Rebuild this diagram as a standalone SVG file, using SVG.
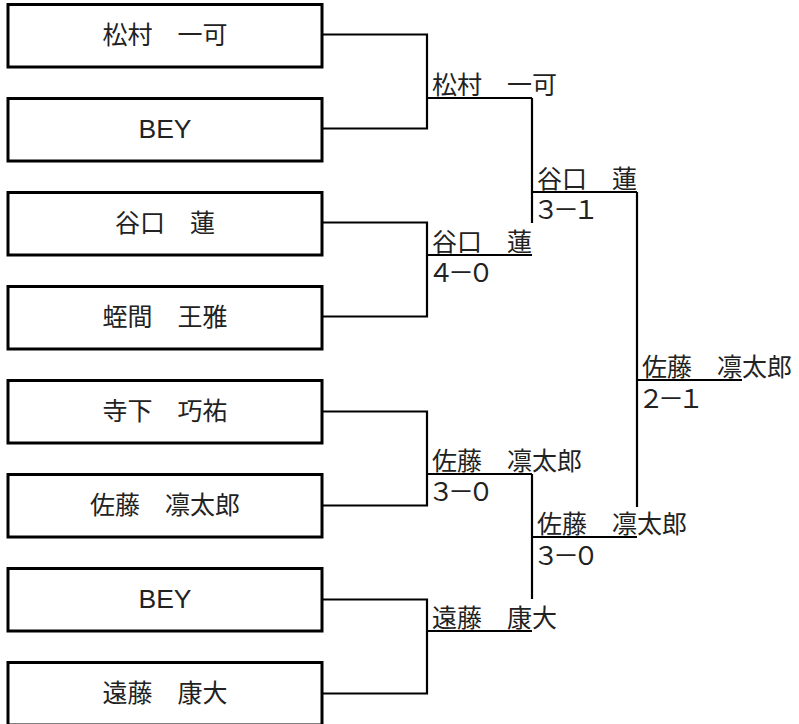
<svg xmlns="http://www.w3.org/2000/svg" width="799" height="724" viewBox="0 0 799 724">
<style>
.box{fill:#fff;stroke:#000;stroke-width:3}
.ln{fill:none;stroke:#000;stroke-width:2.2}
.nm{font-family:"Noto Sans CJK JP","Noto Sans CJK SC",sans-serif;font-size:25px;fill:#222}
.sc{font-family:"Noto Sans CJK JP","Noto Sans CJK SC",sans-serif;font-size:26px;fill:#222;letter-spacing:-6px}
.bn{font-family:"Noto Sans CJK JP","Noto Sans CJK SC",sans-serif;font-size:25px;fill:#222;text-anchor:middle}
.lat{font-family:"Liberation Sans",Arial,sans-serif;font-size:26.5px;fill:#222;text-anchor:middle}
</style>
<rect width="799" height="724" fill="#fff"/>
<g id="connectors">
<path class="ln" d="M322,34.5 H427 V128.5 H322"/>
<path class="ln" d="M427,98 H532"/>
<path class="ln" d="M322,222.5 H427 V316.5 H322"/>
<path class="ln" d="M427,255 H532"/>
<path class="ln" d="M322,411.5 H427 V505.5 H322"/>
<path class="ln" d="M427,474 H532"/>
<path class="ln" d="M322,599.5 H427 V693.5 H322"/>
<path class="ln" d="M427,631 H532"/>
<path class="ln" d="M532,98 V223"/>
<path class="ln" d="M532,192 H637"/>
<path class="ln" d="M532,474 V599"/>
<path class="ln" d="M532,537 H637"/>
<path class="ln" d="M637,192 V507"/>
<path class="ln" d="M637,380 H742"/>
</g>
<g id="p1"><rect class="box" x="8" y="4.5" width="314" height="62.5"/><text class="bn" x="165" y="43.5">松村　一可</text></g>
<g id="p2"><rect class="box" x="8" y="98.5" width="314" height="62.5"/><text class="lat" x="165" y="138">BEY</text></g>
<g id="p3"><rect class="box" x="8" y="192.5" width="314" height="62.5"/><text class="bn" x="165" y="231.5">谷口　蓮</text></g>
<g id="p4"><rect class="box" x="8" y="286.5" width="314" height="62.5"/><text class="bn" x="165" y="325.5">蛭間　王雅</text></g>
<g id="p5"><rect class="box" x="8" y="380.5" width="314" height="62.5"/><text class="bn" x="165" y="419.5">寺下　巧祐</text></g>
<g id="p6"><rect class="box" x="8" y="474.5" width="314" height="62.5"/><text class="bn" x="165" y="513.5">佐藤　凛太郎</text></g>
<g id="p7"><rect class="box" x="8" y="568.5" width="314" height="62.5"/><text class="lat" x="165" y="608">BEY</text></g>
<g id="p8"><rect class="box" x="8" y="662.5" width="314" height="62.5"/><text class="bn" x="165" y="701.5">遠藤　康大</text></g>
<g id="qf1"><text class="nm" x="432" y="94">松村　一可</text></g>
<g id="qf2"><text class="nm" x="432" y="251">谷口　蓮</text><text class="sc" x="428" y="282">４－０</text></g>
<g id="qf3"><text class="nm" x="432" y="470">佐藤　凛太郎</text><text class="sc" x="428" y="501">３－０</text></g>
<g id="qf4"><text class="nm" x="432" y="627">遠藤　康大</text></g>
<g id="sf1"><text class="nm" x="537" y="188">谷口　蓮</text><text class="sc" x="533" y="219">３－１</text></g>
<g id="sf2"><text class="nm" x="537" y="533">佐藤　凛太郎</text><text class="sc" x="533" y="565">３－０</text></g>
<g id="final"><text class="nm" x="642" y="376">佐藤　凛太郎</text><text class="sc" x="638" y="408">２－１</text></g>
</svg>
